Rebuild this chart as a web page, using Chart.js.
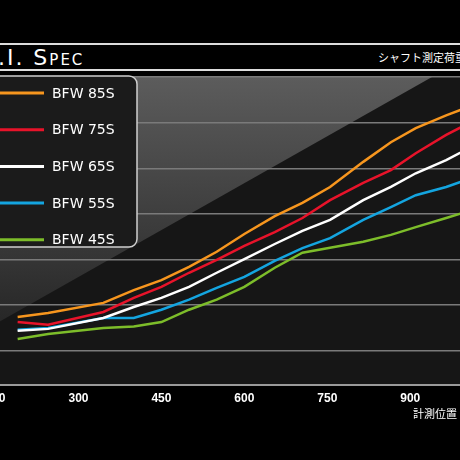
<!doctype html>
<html>
<head>
    <meta charset="utf-8">
    <title>E.I. Spec</title>
    <script src="https://cdn.jsdelivr.net/npm/chart.js"></script>
    <style>
        body { margin: 0; background: #000; width: 460px; height: 460px; overflow: hidden; position: relative; font-family: "Noto Sans CJK JP", "DejaVu Sans", sans-serif; }
        .rule { position: absolute; left: 0; width: 460px; height: 2px; background: #ddd; }
        #titulo { position: absolute; left: -18px; top: 45px; color: #fff; font-family: "DejaVu Sans", sans-serif; font-size: 22px; font-variant: small-caps; letter-spacing: 2px; }
        #carga { position: absolute; left: 378px; top: 49px; color: #fff; font-size: 11px; white-space: nowrap; }
        #posicao { position: absolute; left: 413px; top: 405px; color: #fff; font-size: 11px; white-space: nowrap; }
        #wrap { position: absolute; left: -40px; top: 0; width: 500px; height: 460px; }
    </style>
</head>
<body>
    <div class="rule" style="top:43px"></div>
    <div class="rule" style="top:69px"></div>
    <div id="titulo">E.I. Spec</div>
    <div id="carga">シャフト測定荷重</div>
    <div id="wrap"><canvas id="grafico"></canvas></div>
    <div id="posicao">計測位置（mm）</div>

    <script>
    const POSICOES = [190, 245, 345, 400, 450, 500, 550, 600, 655, 705, 755, 815, 865, 910, 965, 1000];
    const ROTULOS = ['BFW 85S', 'BFW 75S', 'BFW 65S', 'BFW 55S', 'BFW 45S'];
    const CORES = ['#f7961e', '#e8132a', '#ffffff', '#14a5e0', '#7dbd2a'];
    const BFW85 = [0.74, 0.83, 1.05, 1.33, 1.55, 1.84, 2.17, 2.56, 2.95, 3.24, 3.59, 4.14, 4.57, 4.88, 5.16, 5.32];
    const BFW75 = [0.63, 0.57, 0.85, 1.16, 1.40, 1.71, 1.99, 2.30, 2.60, 2.91, 3.30, 3.68, 3.96, 4.33, 4.73, 4.95];
    const BFW65 = [0.44, 0.48, 0.72, 0.96, 1.16, 1.40, 1.71, 2.01, 2.34, 2.63, 2.87, 3.30, 3.59, 3.89, 4.18, 4.40];
    const BFW55 = [0.46, 0.50, 0.72, 0.72, 0.90, 1.12, 1.38, 1.62, 1.97, 2.25, 2.47, 2.87, 3.15, 3.41, 3.59, 3.74];
    const BFW45 = [0.26, 0.37, 0.50, 0.53, 0.63, 0.90, 1.12, 1.40, 1.82, 2.15, 2.26, 2.39, 2.54, 2.71, 2.91, 3.04];
    const SERIES = [BFW85, BFW75, BFW65, BFW55, BFW45];
    const TICKS_X = [150, 300, 450, 600, 750, 900];

    // fundo escuro com o brilho diagonal
    const fundo = {
        id: 'fundo',
        beforeDraw(chart) {
            const { ctx, chartArea: a } = chart;
            ctx.save();
            ctx.fillStyle = '#161616';
            ctx.fillRect(a.left, a.top, a.right - a.left, a.bottom - a.top);
            const g = ctx.createLinearGradient(0, a.top, 0, a.top + 250);
            g.addColorStop(0, '#5c5c5c');
            g.addColorStop(1, '#262626');
            ctx.fillStyle = g;
            ctx.beginPath();
            ctx.moveTo(a.left, a.top);
            ctx.lineTo(a.left + 442, a.top);
            ctx.lineTo(a.left, a.top + 250);
            ctx.closePath();
            ctx.fill();
            ctx.restore();
        }
    };

    // legenda em caixa arredondada
    const legenda = {
        id: 'legenda',
        afterDraw(chart) {
            const ctx = chart.ctx;
            ctx.save();
            ctx.fillStyle = '#1b1b1b';
            ctx.strokeStyle = '#cfcfcf';
            ctx.lineWidth = 1.5;
            ctx.beginPath();
            ctx.roundRect(20, 76, 157, 171, 8);
            ctx.fill();
            ctx.stroke();
            ctx.font = '14px "DejaVu Sans", sans-serif';
            ctx.textBaseline = 'middle';
            chart.data.datasets.forEach((ds, i) => {
                const y = 93 + i * 36.7;
                ctx.strokeStyle = ds.borderColor;
                ctx.lineWidth = 3;
                ctx.beginPath();
                ctx.moveTo(25, y);
                ctx.lineTo(84, y);
                ctx.stroke();
                ctx.fillStyle = '#fff';
                ctx.fillText(ds.label, 92, y + 1);
            });
            ctx.restore();
        }
    };

    new Chart(document.getElementById('grafico'), {
        type: 'line',
        data: {
            datasets: SERIES.map((s, i) => ({
                label: ROTULOS[i],
                borderColor: CORES[i],
                borderWidth: 2.5,
                pointRadius: 0,
                tension: 0,
                data: s.map((v, j) => ({ x: POSICOES[j], y: v }))
            }))
        },
        options: {
            responsive: true,
            maintainAspectRatio: false,
            animation: false,
            layout: { padding: { left: 30, right: 0, top: 77, bottom: 0 } },
            plugins: { legend: { display: false }, tooltip: { enabled: false } },
            scales: {
                x: {
                    type: 'linear',
                    min: 140,
                    max: 990,
                    afterBuildTicks: (s) => { s.ticks = TICKS_X.map(v => ({ value: v })); },
                    afterFit: (s) => { s.height = 75; },
                    grid: { display: false, drawTicks: false },
                    border: { color: '#9a9a9a', width: 2 },
                    ticks: { color: '#fff', padding: 6, font: { size: 12, weight: 'bold', family: 'Liberation Sans' } }
                },
                y: {
                    display: true,
                    min: -0.75,
                    max: 6,
                    afterBuildTicks: (s) => { s.ticks = [0, 1, 2, 3, 4, 5, 6].map(v => ({ value: v })); },
                    afterFit: (s) => { s.width = 0; },
                    ticks: { display: false },
                    border: { display: false },
                    grid: { color: '#7a7a7a', lineWidth: 1.5, drawTicks: false }
                }
            }
        },
        plugins: [fundo, legenda]
    });
    </script>
</body>
</html>
